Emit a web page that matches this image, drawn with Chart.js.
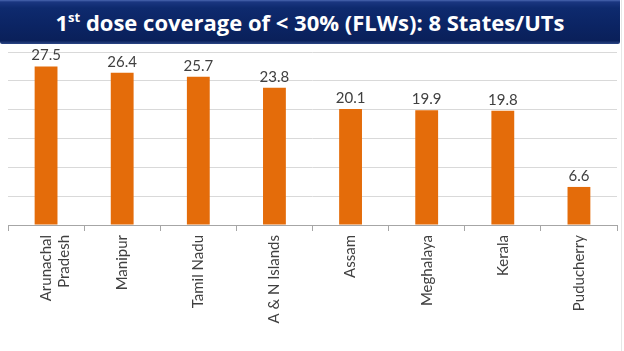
<!DOCTYPE html>
<html>
<head>
<meta charset="utf-8">
<script src="https://cdn.jsdelivr.net/npm/chart.js@4/dist/chart.umd.min.js"></script>
<style>
  html, body { margin: 0; padding: 0; background: #ffffff; }
  #wrap { position: relative; width: 624px; height: 351px; overflow: hidden; background: #fff; }
  #chart { position: absolute; left: 0; top: 0; }
  #banner {
    position: absolute; left: 0; top: 0; width: 620px; height: 44px;
    background: linear-gradient(to bottom, #4a67b0 0px, #1a3680 2px, #0e2a6e 8px, #0b2463 60%, #0a205a 92%, #2b4585 100%);
    border-radius: 0 0 2px 2px;
    color: #ffffff; font-family: "Open Sans", Lato, sans-serif; font-weight: 700;
    font-size: 22px; text-align: center; line-height: 44px; white-space: nowrap;
  }
  #banner sup { font-size: 13px; vertical-align: 0; position: relative; top: -9px; }
  #rborder { position: absolute; left: 621px; top: 0; width: 1px; height: 351px; background: #e6e6e6; }
</style>
</head>
<body>
<div id="wrap">
  <canvas id="chart" width="624" height="351"></canvas>
  <div id="banner">1<sup>st</sup> dose coverage of &lt; 30% (FLWs): 8 States/UTs</div>
  <div id="rborder"></div>
</div>
<script>
const categories = [["Arunachal", "Pradesh"], "Manipur", "Tamil Nadu", "A & N Islands", "Assam", "Meghalaya", "Kerala", "Puducherry"];
const coverage = [27.5, 26.4, 25.7, 23.8, 20.1, 19.9, 19.8, 6.6];
const yMin = 0, yMax = 30, yStep = 5;

const valueLabels = {
  id: "valueLabels",
  afterDatasetsDraw(chart) {
    const ctx = chart.ctx;
    const meta = chart.getDatasetMeta(0);
    ctx.save();
    ctx.font = "15px Lato, 'Open Sans', sans-serif";
    ctx.fillStyle = "#404040";
    ctx.textAlign = "center";
    ctx.textBaseline = "alphabetic";
    meta.data.forEach((bar, i) => {
      ctx.fillText(coverage[i].toFixed(1), bar.x, bar.y - 6);
    });
    ctx.restore();
  }
};

new Chart(document.getElementById("chart"), {
  type: "bar",
  data: {
    labels: categories,
    datasets: [{
      data: coverage,
      backgroundColor: "#E46C0A",
      borderWidth: 0,
      categoryPercentage: 1.0,
      barPercentage: 0.30
    }]
  },
  options: {
    responsive: false,
    animation: false,
    layout: { padding: { top: 52, left: 8, right: 7, bottom: 0 } },
    plugins: { legend: { display: false }, tooltip: { enabled: false } },
    scales: {
      y: {
        min: yMin, max: yMax,
        ticks: { display: false, stepSize: yStep },
        grid: { color: "#d9d9d9", drawTicks: false, lineWidth: 1 },
        border: { display: false },
        afterFit(axis) { axis.width = 0; }
      },
      x: {
        offset: true,
        grid: { display: true, drawOnChartArea: false, drawTicks: true, tickLength: 6, color: "#a6a6a6", offset: true },
        border: { display: true, color: "#a6a6a6" },
        ticks: {
          autoSkip: false, minRotation: 90, maxRotation: 90, padding: 4,
          color: "#404040", font: { family: "Lato, 'Open Sans', sans-serif", size: 15, lineHeight: 1.2 }
        },
        afterFit(axis) { axis.height = 126; }
      }
    }
  },
  plugins: [valueLabels]
});
</script>
</body>
</html>
